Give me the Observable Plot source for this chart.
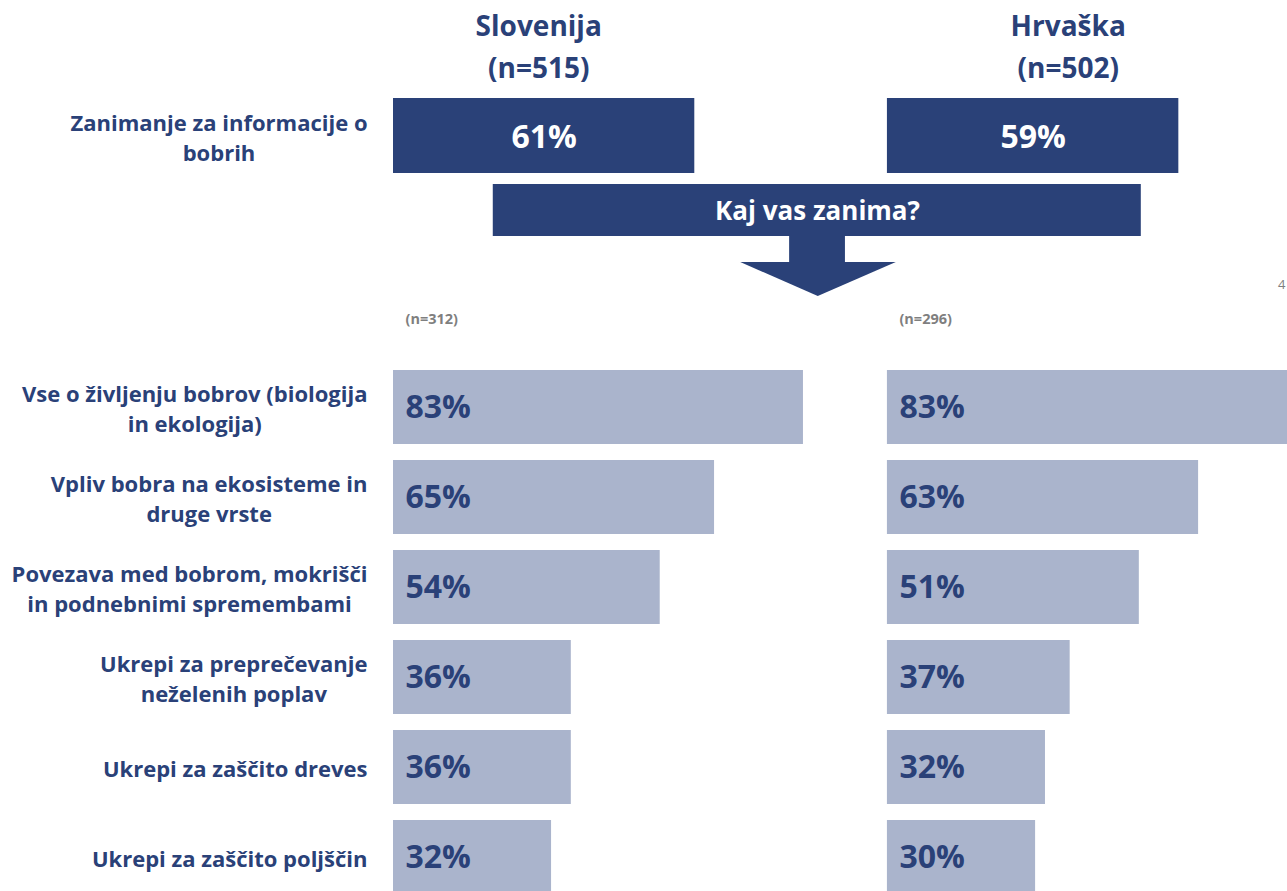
<!DOCTYPE html>
<html><head><meta charset="utf-8">
<script src="https://cdn.jsdelivr.net/npm/d3@7"></script>
<script src="https://cdn.jsdelivr.net/npm/@observablehq/plot@0.6"></script>
<style>
html,body{margin:0;padding:0;background:#fff;overflow:hidden;}
#chart svg{display:block;}
</style></head><body><div id="chart"></div>
<script>
// ---- data ----
const countries = ["Slovenija", "Hrvaška"];
const countrySamples = [515, 502];
const interestShare = [61, 59];
const subSamples = [312, 296];
const question = "Kaj vas zanima?";
const topicLabel = "Zanimanje za informacije o\nbobrih";
const pageNumber = "4";
const categories = [
  "Vse o življenju bobrov (biologija in ekologija)",
  "Vpliv bobra na ekosisteme in druge vrste",
  "Povezava med bobrom, mokrišči in podnebnimi spremembami",
  "Ukrepi za preprečevanje neželenih poplav",
  "Ukrepi za zaščito dreves",
  "Ukrepi za zaščito poljščin"
];
const categoryLabels = [
  "Vse o življenju bobrov (biologija\nin ekologija)",
  "Vpliv bobra na ekosisteme in\ndruge vrste",
  "Povezava med bobrom, mokrišči\nin podnebnimi spremembami",
  "Ukrepi za preprečevanje\nneželenih poplav",
  "Ukrepi za zaščito dreves",
  "Ukrepi za zaščito poljščin"
];
const slovenia = [83, 65, 54, 36, 36, 32];
const croatia = [83, 63, 51, 37, 32, 30];

// ---- layout / style ----
const W = 1287;
const navy = "#2A4178";
const light = "#AAB4CC";
const gray = "#7F7F7F";
const fontName = "Open Sans";
const font = "'Open Sans', Lato, sans-serif";
const groupOffset = 100; // each country panel starts 100 units after the previous
const xOpts = {domain: [0, 181], axis: null};
const labelSize = 22;
const labelLH = 1.34;

const rows = categories.flatMap((c, i) => [
  {country: countries[0], cat: c, value: slovenia[i], offset: 0},
  {country: countries[1], cat: c, value: croatia[i], offset: groupOffset}
]);

// measure label widths for centred multi-line blocks that are right aligned
const ctx = document.createElement("canvas").getContext("2d");
function blockWidth(text, size) {
  ctx.font = `bold ${size}px '${fontName}'`;
  return d3.max(text.split("\n"), l => ctx.measureText(l).width);
}

// ---- top plot ----
const topPlot = Plot.plot({
  width: W, height: 300,
  marginLeft: 393, marginRight: 0, marginTop: 0, marginBottom: 0,
  style: {fontFamily: font, background: "#fff"},
  x: xOpts,
  y: {domain: [0, 300], range: [0, 300], axis: null},
  marks: [
    Plot.text(countries, {
      x: (d, i) => [29.4, 136.6][i], y: 43,
      text: (d, i) => `${d}\n(n=${countrySamples[i]})`,
      lineHeight: 1.5, fontSize: 28, fontWeight: 700, fill: navy
    }),
    Plot.rect(countries, {
      x1: (d, i) => i * groupOffset, x2: (d, i) => i * groupOffset + interestShare[i],
      y1: 98, y2: 173, fill: navy
    }),
    Plot.text(countries, {
      x: (d, i) => i * groupOffset + interestShare[i] / 2, y: 137,
      text: (d, i) => interestShare[i] + "%",
      fontSize: 32, fontWeight: 700, fill: "#fff"
    }),
    Plot.text([topicLabel], {
      x: 0, y: 136, text: d => d, textAnchor: "middle",
      dx: -(26 + blockWidth(topicLabel, labelSize) / 2),
      lineHeight: labelLH, fontSize: labelSize, fontWeight: 700, fill: navy
    }),
    Plot.rect([question], {x1: 20.2, x2: 151.4, y1: 184, y2: 236, fill: navy}),
    Plot.text([question], {x: 85.85, y: 211, text: d => d, fontSize: 26, fontWeight: 700, fill: "#fff"}),
    Plot.rect([question], {x1: 80.2, x2: 91.5, y1: 235, y2: 263, fill: navy}),
    Plot.areaY([{x: 70.3, y: 262}, {x: 86, y: 296}, {x: 101.8, y: 262}], {
      x: "x", y1: 262, y2: "y", fill: navy
    }),
    Plot.text([pageNumber], {frameAnchor: "top-right", lineAnchor: "middle", textAnchor: "end", dx: -2, dy: 284, fontSize: 13, fill: gray})
  ]
});

// ---- bottom plot ----
const labelMarks = categories.map((c, i) => Plot.text([c], {
  x: 0, y: d => d, text: () => categoryLabels[i], textAnchor: "middle",
  dx: -(26 + blockWidth(categoryLabels[i], labelSize) / 2),
  lineHeight: labelLH, fontSize: labelSize, fontWeight: 700, fill: navy
}));

const bottomPlot = Plot.plot({
  width: W, height: 591,
  marginLeft: 393, marginRight: 0, marginTop: 70, marginBottom: 0,
  style: {fontFamily: font, background: "#fff"},
  x: xOpts,
  y: {domain: categories, range: [70, 594], paddingInner: 0.178, paddingOuter: 0, axis: null},
  marks: [
    Plot.text(countries, {
      x: (d, i) => i * groupOffset, frameAnchor: "top", lineAnchor: "middle", dy: -51, dx: 12,
      textAnchor: "start", text: (d, i) => `(n=${subSamples[i]})`,
      fontSize: 14.5, fontWeight: 700, fill: gray
    }),
    Plot.barX(rows, {x1: "offset", x2: d => d.offset + d.value, y: "cat", fill: light, clip: "frame"}),
    Plot.text(rows, {
      x: "offset", y: "cat", text: d => d.value + "%", textAnchor: "start", dx: 12,
      fontSize: 32, fontWeight: 700, fill: navy
    }),
    ...labelMarks
  ]
});

document.getElementById("chart").append(topPlot, bottomPlot);
</script></body></html>
